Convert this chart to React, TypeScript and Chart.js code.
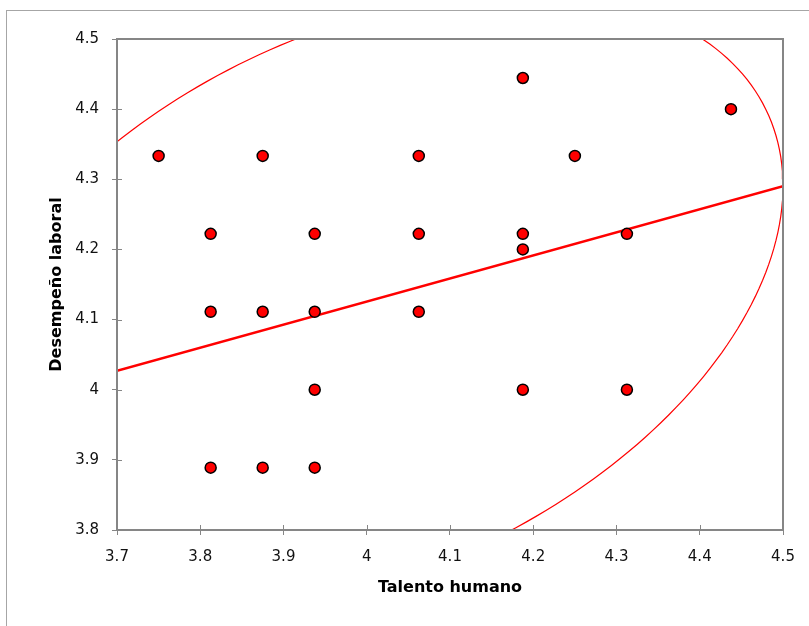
import React, { useEffect, useRef } from "react";
import { Chart, registerables } from "chart.js";

Chart.register(...registerables);

// Scatter data (Talento humano vs Desempeño laboral)
const talentoHumano = [3.75, 3.8125, 3.8125, 3.8125, 3.875, 3.875, 3.875, 3.9375, 3.9375, 3.9375, 3.9375, 4.0625, 4.0625, 4.0625, 4.1875, 4.1875, 4.1875, 4.1875, 4.25, 4.3125, 4.3125, 4.4375];
const desempenoLaboral = [4.3333, 4.2222, 4.1111, 3.8889, 4.3333, 4.1111, 3.8889, 4.2222, 4.1111, 4.0, 3.8889, 4.3333, 4.2222, 4.1111, 4.4444, 4.2222, 4.2, 4.0, 4.3333, 4.2222, 4.0, 4.4];

// Regression line end points
const regressionX = [3.7, 4.5];
const regressionY = [4.027, 4.29];

// Confidence ellipse parameters
const ellipseCenterX = 4.0;
const ellipseCenterY = 4.1256;
const ellipseHalfX = 0.5;
const ellipseHalfY = 0.4405;
const ellipseRho = 0.3741;
const ellipseSteps = 240;

// Axis ticks
const xTicks = [3.7, 3.8, 3.9, 4.0, 4.1, 4.2, 4.3, 4.4, 4.5];
const yTicks = [3.8, 3.9, 4.0, 4.1, 4.2, 4.3, 4.4, 4.5];

const AXIS_GRAY = "#868686";

const framePlugin = {
  id: "frame",
  afterDraw(chart: any) {
    const { ctx, chartArea } = chart;
    const { left, right, top, bottom } = chartArea;
    ctx.save();
    ctx.strokeStyle = AXIS_GRAY;
    ctx.lineWidth = 1;
    const xs = chart.scales.x;
    const ys = chart.scales.y;
    ctx.beginPath();
    xTicks.forEach((v) => {
      const px = Math.round(xs.getPixelForValue(v)) + 0.5;
      ctx.moveTo(px, bottom);
      ctx.lineTo(px, bottom - 5);
    });
    yTicks.forEach((v) => {
      const py = Math.round(ys.getPixelForValue(v)) + 0.5;
      ctx.moveTo(left, py);
      ctx.lineTo(left + 5, py);
    });
    ctx.stroke();
    ctx.lineWidth = 2;
    ctx.strokeRect(left, top, right - left, bottom - top);
    ctx.restore();
  },
};

export default function App() {
  const canvasRef = useRef<HTMLCanvasElement | null>(null);

  useEffect(() => {
    if (!canvasRef.current) return;
    const points = talentoHumano.map((x, i) => ({ x, y: desempenoLaboral[i] }));
    const regression = regressionX.map((x, i) => ({ x, y: regressionY[i] }));
    const k = Math.sqrt(1 - ellipseRho * ellipseRho);
    const ellipse: { x: number; y: number }[] = [];
    for (let i = 0; i <= ellipseSteps; i++) {
      const t = (i / ellipseSteps) * Math.PI * 2;
      const c = Math.cos(t);
      const s = Math.sin(t);
      ellipse.push({
        x: ellipseCenterX + ellipseHalfX * c,
        y: ellipseCenterY + ellipseHalfY * (ellipseRho * c + k * s),
      });
    }

    const tickFont = { family: "'DejaVu Sans', sans-serif", size: 15 };
    const titleFont = { family: "'DejaVu Sans', sans-serif", size: 16, weight: "bold" as const };

    const chart = new Chart(canvasRef.current, {
      type: "scatter",
      data: {
        datasets: [
          {
            label: "Datos",
            data: points,
            backgroundColor: "#ff0000",
            borderColor: "#000000",
            borderWidth: 1.5,
            pointRadius: 5.5,
            order: 0,
            clip: false as any,
          },
          {
            label: "Regresión",
            data: regression,
            showLine: true,
            borderColor: "#ff0000",
            borderWidth: 2.5,
            pointRadius: 0,
            fill: false,
            order: 1,
            clip: 0 as any,
          },
          {
            label: "Elipse",
            data: ellipse,
            showLine: true,
            borderColor: "#ff0000",
            borderWidth: 1.2,
            pointRadius: 0,
            fill: false,
            order: 2,
            clip: 0 as any,
          },
        ],
      },
      options: {
        animation: false,
        responsive: false,
        events: [],
        layout: { padding: { left: 0, right: 26, top: 39, bottom: 0 } },
        plugins: {
          legend: { display: false },
          tooltip: { enabled: false },
        },
        scales: {
          x: {
            type: "linear",
            position: "bottom",
            min: 3.7,
            max: 4.5,
            afterBuildTicks: (scale: any) => {
              scale.ticks = xTicks.map((v) => ({ value: v }));
            },
            afterFit: (scale: any) => {
              scale.height = 96;
            },
            ticks: {
              color: "#111111",
              font: tickFont,
              padding: 13,
              maxRotation: 0,
              callback: (v: any) => String(Math.round(Number(v) * 10) / 10),
            },
            grid: {
              drawOnChartArea: false,
              drawTicks: true,
              tickLength: 5,
              color: AXIS_GRAY,
              lineWidth: 1,
            },
            border: { display: false },
            title: {
              display: true,
              text: "Talento humano",
              color: "#000000",
              font: titleFont,
              padding: { top: 0, bottom: 29 },
            },
          },
          y: {
            type: "linear",
            position: "left",
            min: 3.8,
            max: 4.5,
            afterBuildTicks: (scale: any) => {
              scale.ticks = yTicks.map((v) => ({ value: v }));
            },
            afterFit: (scale: any) => {
              scale.width = 117;
            },
            ticks: {
              color: "#111111",
              font: tickFont,
              padding: 13,
              callback: (v: any) => String(Math.round(Number(v) * 10) / 10),
            },
            grid: {
              drawOnChartArea: false,
              drawTicks: true,
              tickLength: 5,
              color: AXIS_GRAY,
              lineWidth: 1,
            },
            border: { display: false },
            title: {
              display: true,
              text: "Desempeño laboral",
              color: "#000000",
              font: titleFont,
              padding: { top: 47, bottom: 0 },
            },
          },
        },
      },
      plugins: [framePlugin],
    });
    return () => chart.destroy();
  }, []);

  return (
    <div
      style={{
        position: "fixed",
        left: 0,
        top: 0,
        width: 809,
        height: 626,
        overflow: "hidden",
        background: "#ffffff",
      }}
    >
      <div
        style={{
          position: "absolute",
          left: 6,
          top: 10,
          width: 900,
          height: 700,
          border: "1px solid #a6a6a6",
          boxSizing: "border-box",
        }}
      />
      <canvas
        ref={canvasRef}
        width={809}
        height={626}
        style={{ position: "absolute", left: 0, top: 0, width: 809, height: 626 }}
      />
    </div>
  );
}
